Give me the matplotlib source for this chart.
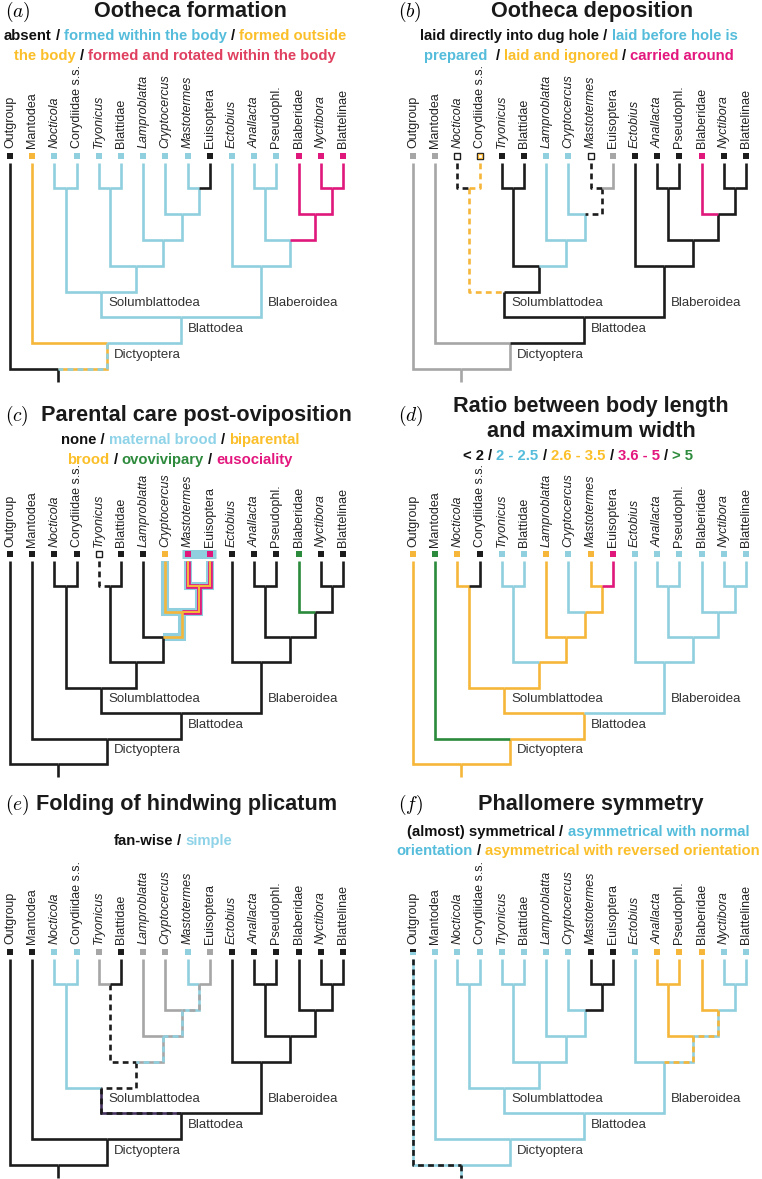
import matplotlib
matplotlib.use('Agg')
import matplotlib.pyplot as plt

W, H = 762, 1179
fig = plt.figure(figsize=(W / 100, H / 100), dpi=100)
plt.rcParams['font.family'] = ['Liberation Sans', 'DejaVu Sans']
plt.rcParams['mathtext.fontset'] = 'cm'

# colours used for branches / character states
COL = {'K': '#1c1c1c', 'B': '#8fcfde', 'O': '#f5b63a', 'M': '#e0187c',
       'G': '#2b8a3c', 'A': '#a6a6a6', 'P': '#45305f'}
TXT = {'K': '#111111', 'B': '#55bddb', 'O': '#fbbf2a', 'M': '#e3177d',
       'R': '#e0405f', 'G': '#2e8b3d', 'LB': '#8fd3e8'}

# ---- tree ----
taxa = ['Outgroup', 'Mantodea', 'Nocticola', 'Corydiidae s.s.', 'Tryonicus',
        'Blattidae', 'Lamproblatta', 'Cryptocercus', 'Mastotermes', 'Euisoptera',
        'Ectobius', 'Anallacta', 'Pseudophl.', 'Blaberidae', 'Nyctibora', 'Blattelinae']
italic_taxa = ['Nocticola', 'Tryonicus', 'Lamproblatta', 'Cryptocercus',
               'Mastotermes', 'Ectobius', 'Anallacta', 'Nyctibora']

children = {
    'Root': ['Outgroup', 'Dictyoptera'],
    'Dictyoptera': ['Mantodea', 'Blattodea'],
    'Blattodea': ['Solumblattodea', 'Blaberoidea'],
    'Solumblattodea': ['N1', 'N2'],
    'N1': ['Nocticola', 'Corydiidae s.s.'],
    'N2': ['N3', 'N4'],
    'N3': ['Tryonicus', 'Blattidae'],
    'N4': ['Lamproblatta', 'N5'],
    'N5': ['Cryptocercus', 'N6'],
    'N6': ['Mastotermes', 'Euisoptera'],
    'Blaberoidea': ['Ectobius', 'N7'],
    'N7': ['N8', 'N9'],
    'N8': ['Anallacta', 'Pseudophl.'],
    'N9': ['Blaberidae', 'N10'],
    'N10': ['Nyctibora', 'Blattelinae'],
}
level = {'Root': 0, 'Dictyoptera': 1, 'Blattodea': 2, 'Solumblattodea': 3,
         'N2': 4, 'Blaberoidea': 4, 'N4': 5, 'N7': 5, 'N5': 6, 'N9': 6,
         'N1': 7, 'N3': 7, 'N6': 7, 'N8': 7, 'N10': 7}
clade_labels = [('Solumblattodea', 'Solumblattodea', 3),
                ('Blaberoidea', 'Blaberoidea', 3),
                ('Blattodea', 'Blattodea', 2),
                ('Dictyoptera', 'Dictyoptera', 1)]

LEAF_TOP = 8.0
SQ_Y = 8.27
LABEL_Y = 8.55

# ---- panels: title, legend lines, branch states, tip squares ----
panels = [
    dict(tag='a', title=['Ootheca formation'], default='B',
         legend=[[('absent', 'K'), ('/', 'K'), ('formed within the body', 'B'), ('/', 'K'), ('formed outside', 'O')],
                 [('the body', 'O'), ('/', 'K'), ('formed and rotated within the body', 'R')]],
         branches={'Outgroup': 'K', 'Root': 'K', 'Mantodea': 'O', 'Dictyoptera': 'OB',
                   'Euisoptera': 'K', 'N9': 'M', 'Blaberidae': 'M', 'N10': 'M',
                   'Nyctibora': 'M', 'Blattelinae': 'M'},
         tips={}, band=None),
    dict(tag='b', title=['Ootheca deposition'], default='K',
         legend=[[('laid directly into dug hole /', 'K'), ('laid before hole is', 'B')],
                 [('prepared ', 'B'), ('/', 'K'), ('laid and ignored', 'O'), ('/', 'K'), ('carried around', 'M')]],
         branches={'Outgroup': 'A', 'Root': 'A', 'Dictyoptera': 'A', 'Mantodea': 'A',
                   'N1': 'O:', 'Nocticola': 'K:', 'Corydiidae s.s.': 'O:', 'N4': 'B',
                   'Lamproblatta': 'B', 'N5': 'B', 'Cryptocercus': 'B', 'N6': 'K:',
                   'Mastotermes': 'K:', 'Euisoptera': 'A', 'Blaberidae': 'M'},
         tips={'Nocticola': 'wK', 'Corydiidae s.s.': 'wO', 'Mastotermes': 'wK'}, band=None),
    dict(tag='c', title=['Parental care post-oviposition'], default='K',
         legend=[[('none /', 'K'), ('maternal brood', 'LB'), ('/', 'K'), ('biparental', 'O')],
                 [('brood', 'O'), ('/', 'K'), ('ovovivipary', 'G'), ('/', 'K'), ('eusociality', 'M')]],
         branches={'Tryonicus': 'K:', 'Cryptocercus': 'hO', 'N5': 'hO', 'N6': 'hE',
                   'Mastotermes': 'hE', 'Euisoptera': 'hE', 'Blaberidae': 'G'},
         tips={'Tryonicus': 'wK', 'Cryptocercus': 'O', 'Mastotermes': 'M',
               'Euisoptera': 'M', 'Blaberidae': 'G'},
         band=('Mastotermes', 'Euisoptera')),
    dict(tag='d', title=['Ratio between body length', 'and maximum width'], default='B',
         legend=[[('< 2', 'K'), ('/', 'K'), ('2 - 2.5', 'B'), ('/', 'K'), ('2.6 - 3.5', 'O'),
                  ('/', 'K'), ('3.6 - 5', 'M'), ('/', 'K'), ('> 5', 'G')]],
         branches={'Outgroup': 'O', 'Root': 'O', 'Dictyoptera': 'O', 'Mantodea': 'G',
                   'Blattodea': 'O', 'Solumblattodea': 'O', 'N1': 'O', 'Nocticola': 'O',
                   'Corydiidae s.s.': 'K', 'N2': 'O', 'N4': 'O', 'Lamproblatta': 'O',
                   'N5': 'O', 'N6': 'O', 'Mastotermes': 'O', 'Euisoptera': 'M'},
         tips={}, band=None),
    dict(tag='e', title=['Folding of hindwing plicatum'], default='K',
         legend=[[('fan-wise', 'K'), ('/', 'K'), ('simple', 'LB')]],
         branches={'Nocticola': 'B', 'Corydiidae s.s.': 'B', 'N1': 'B', 'Solumblattodea': 'PK',
                   'N2': 'K:', 'N3': 'K:', 'Tryonicus': 'A', 'N4': 'AB', 'Lamproblatta': 'A',
                   'N5': 'AB', 'Cryptocercus': 'A', 'N6': 'BA', 'Mastotermes': 'B',
                   'Euisoptera': 'A'},
         tips={}, band=None),
    dict(tag='f', title=['Phallomere symmetry'], default='B',
         legend=[[('(almost) symmetrical', 'K'), ('/', 'K'), ('asymmetrical with normal', 'B')],
                 [('orientation', 'B'), ('/', 'K'), ('asymmetrical with reversed orientation', 'O')]],
         branches={'Outgroup': 'BK', 'Root': 'BK', 'N6': 'K', 'Mastotermes': 'K',
                   'Euisoptera': 'K', 'N7': 'BO', 'N8': 'O', 'Anallacta': 'O',
                   'Pseudophl.': 'O', 'N9': 'BO', 'Blaberidae': 'O'},
         tips={'Outgroup': 'hKB'}, band=None),
]

# layout of the panels in pixels: (x of first tip, y of root, px per level)
col_x0 = [10, 413]
rows = [(369, 25.8), (764, 25.4), (1165, 25.8)]
title_base = [(17, 40, 20), (421, 444, 20), (810, 836, 19)]
title_cx = [(190, 175), (592, 579), (196, 180), (591, 578), (187, 173), (591, 578)]
DX = 22.2

X = {}


def node_x(n):
    if n in taxa:
        X[n] = taxa.index(n)
    else:
        X[n] = sum(node_x(c) for c in children[n]) / 2
    return X[n]


node_x('Root')


def draw_branch(ax, xs, ys, code):
    lw = 1.9
    kw = dict(solid_capstyle='butt', solid_joinstyle='miter', dash_capstyle='butt')
    if code.startswith('h'):
        ax.plot(xs, ys, color=COL['B'], lw=5.8, zorder=1, **kw)
        if code == 'hO':
            ax.plot(xs, ys, color=COL['O'], lw=lw, zorder=3, **kw)
        else:
            ax.plot(xs, ys, color=COL['M'], lw=3.4, zorder=2, **kw)
            ax.plot(xs, ys, color=COL['O'], lw=1.5, zorder=3, **kw)
        return
    if len(code) == 1:
        ax.plot(xs, ys, color=COL[code], lw=lw, zorder=2, **kw)
    elif code[1] == ':':
        ax.plot(xs, ys, color=COL[code[0]], lw=lw, zorder=2, ls=(0, (2.2, 1.6)), **kw)
    else:
        ax.plot(xs, ys, color=COL[code[0]], lw=lw, zorder=2, **kw)
        ax.plot(xs, ys, color=COL[code[1]], lw=lw, zorder=3, ls=(0, (2.2, 1.6)), **kw)


def draw_tip(ax, x, code):
    ms = 4.3
    if code.startswith('w'):
        ax.plot(x, SQ_Y, 's', ms=ms, mfc='white', mec=COL['K'], mew=1.0, zorder=4)
        if code[1] != 'K':
            ax.plot(x, SQ_Y, 's', ms=2.4, mfc='white', mec=COL[code[1]], mew=0.9, zorder=5)
    elif code.startswith('h'):
        ax.plot(x, SQ_Y, 's', ms=ms + 0.4, fillstyle='top', mfc=COL[code[1]],
                mfcalt=COL[code[2]], mew=0, zorder=4)
    else:
        ax.plot(x, SQ_Y, 's', ms=ms + 0.4, mfc=COL[code], mec=COL[code], mew=0, zorder=4)


renderer = fig.canvas.get_renderer()


def text_width(s, size):
    t = fig.text(0, 0, s, fontsize=size, fontweight='bold')
    w = t.get_window_extent(renderer).width
    t.remove()
    return w


def rich_line(parts, cx, base_y, size=10.7):
    widths = [text_width(s, size) for s, c in parts]
    sp = text_width('a a', size) - text_width('aa', size)
    total = sum(widths) + sp * (len(parts) - 1)
    x = cx - total / 2
    for (s, c), w in zip(parts, widths):
        fig.text(x / W, 1 - base_y / H, s, color=TXT[c], fontsize=size,
                 fontweight='bold', ha='left', va='baseline')
        x += w + sp


for i, p in enumerate(panels):
    r, c = divmod(i, 2)
    x0 = col_x0[c]
    root_y, dy = rows[r]
    xl, xr, yb, yt = -0.5, 15.5, -0.7, 9.3
    left = x0 + xl * DX
    right = x0 + xr * DX
    bot = root_y - yb * dy
    top = root_y - yt * dy
    ax = fig.add_axes([left / W, 1 - bot / H, (right - left) / W, (bot - top) / H])
    ax.set_xlim(xl, xr)
    ax.set_ylim(yb, yt)
    ax.axis('off')

    styles = p['branches']
    for parent, kids in children.items():
        for kid in kids:
            yc = LEAF_TOP if kid in taxa else level[kid]
            xs = [X[kid], X[kid], X[parent]]
            ys = [yc, level[parent], level[parent]]
            draw_branch(ax, xs, ys, styles.get(kid, p['default']))
    draw_branch(ax, [X['Root'], X['Root']], [0, -0.5], styles.get('Root', p['default']))

    if p['band']:
        a, b = p['band']
        ax.plot([X[a] - 0.27, X[b] + 0.27], [SQ_Y, SQ_Y], color=COL['B'], lw=6.5,
                solid_capstyle='butt', zorder=3)

    for t in taxa:
        draw_tip(ax, X[t], p['tips'].get(t, styles.get(t, p['default'])))
        ax.text(X[t], LABEL_Y, t, rotation=90, ha='center', va='bottom', fontsize=9,
                color='#222222', style='italic' if t in italic_taxa else 'normal')

    for name, node, ylev in clade_labels:
        ax.text(X[node] + 0.32, ylev - 0.45, name, fontsize=9.5, color='#333333',
                ha='left', va='center')

    # titles and coloured legend lines
    tb, lb, lstep = title_base[r]
    tcx, lcx = title_cx[i]
    fig.text((col_x0[c] - 5 if c == 0 else 398) / W, 1 - tb / H, r'$(%s)$' % p['tag'],
             fontsize=14, ha='left', va='baseline')
    if len(p['title']) == 1:
        fig.text(tcx / W, 1 - tb / H, p['title'][0], fontsize=15.6, fontweight='bold',
                 ha='center', va='baseline', color='#1a1a1a')
        leg_y = lb if i != 4 else 845
    else:
        fig.text(tcx / W, 1 - 412 / H, p['title'][0], fontsize=15.6, fontweight='bold',
                 ha='center', va='baseline', color='#1a1a1a')
        fig.text(tcx / W, 1 - 437 / H, p['title'][1], fontsize=15.6, fontweight='bold',
                 ha='center', va='baseline', color='#1a1a1a')
        leg_y = 460
    for k, line in enumerate(p['legend']):
        rich_line(line, lcx, leg_y + k * lstep)

fig.savefig('out.png', dpi=100)
